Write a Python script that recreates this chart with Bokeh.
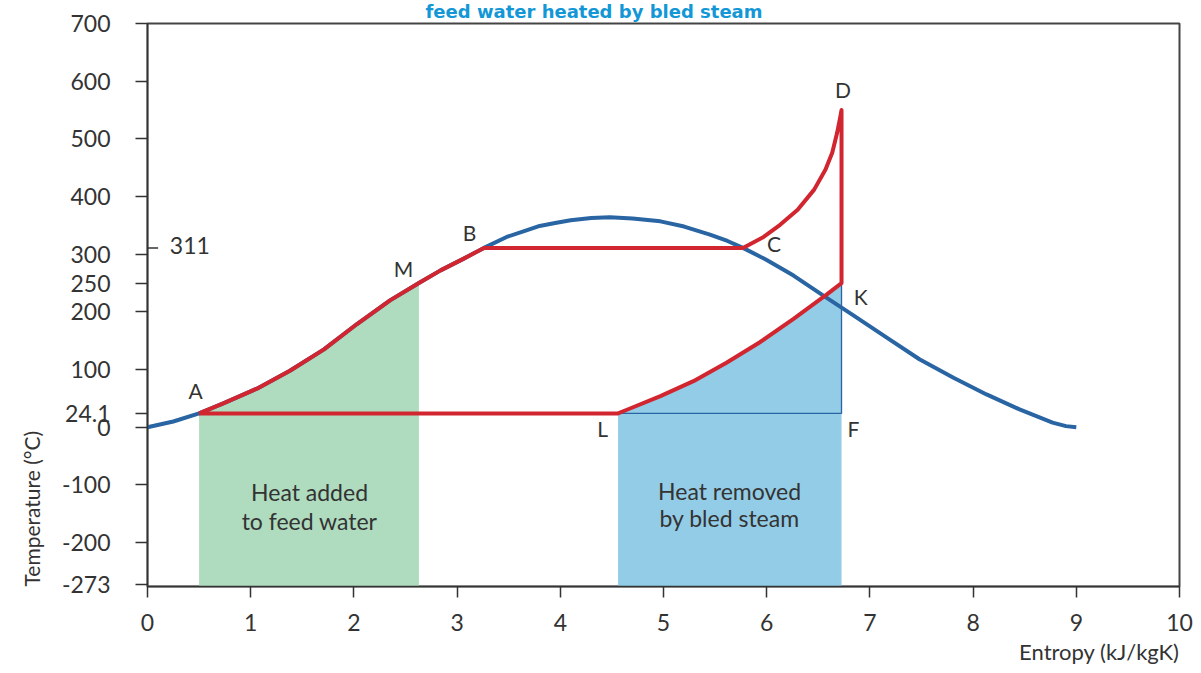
import math
from bokeh.plotting import figure
from bokeh.models import FixedTicker, Label, Range1d, Title
from bokeh.embed import file_html
from bokeh.resources import INLINE

# ---------------- data ----------------
x_ticks = [0, 1, 2, 3, 4, 5, 6, 7, 8, 9, 10]
y_ticks = [-273, -200, -100, 0, 24.1, 100, 200, 250, 300, 400, 500, 600, 700]
y_tick_labels = ["-273", "-200", "-100", "0", "24.1", "100", "200", "250",
                 "300", "400", "500", "600", "700"]
Y_MIN = -276
Y_MAX = 700

# saturation dome (blue)
dome_s = [0, 0.25, 0.5, 0.74, 1.06, 1.38, 1.71, 2.03, 2.35, 2.63, 2.84, 3.06,
          3.26, 3.48, 3.65, 3.8, 3.95, 4.1, 4.3, 4.48, 4.7, 4.97, 5.2, 5.45,
          5.62, 5.77, 6.0, 6.26, 6.56, 6.84, 7.16, 7.48, 7.81, 8.13, 8.45,
          8.77, 8.9, 9.0]
dome_T = [0, 10, 24.1, 42, 67, 98, 135, 179, 220, 250, 272, 292,
          311, 330, 340, 349, 354, 359, 363, 364, 362, 357, 348, 334,
          323, 311, 290, 263, 227, 194, 156, 118, 86, 57, 31,
          8, 2, 0]

# cycle (red): A -> M (feed water heating)
heat_s = [0.5, 0.74, 1.06, 1.38, 1.71, 2.03, 2.35, 2.63]
heat_T = [24.1, 42, 67, 98, 135, 179, 220, 250]
# M -> B
boil_s = [2.84, 3.06, 3.26]
boil_T = [272, 292, 311]
# C -> D (superheating)
superheat_s = [5.77, 5.97, 6.13, 6.30, 6.46, 6.57, 6.635, 6.683, 6.715, 6.725]
superheat_T = [311, 330, 351, 377, 412, 447, 476, 511, 540, 550]
# K -> L (bled steam)
bleed_s = [6.725, 6.58, 6.26, 5.93, 5.61, 5.29, 4.97, 4.64, 4.56]
bleed_T = [250, 230, 188, 147, 112, 80, 54, 30, 24.1]

point_names = ["A", "M", "B", "C", "D", "K", "L", "F"]
point_s = [0.465, 2.48, 3.12, 6.07, 6.74, 6.91, 4.41, 6.84]
point_T = [64, 275, 338, 318, 586, 227, -2, -2]

TITLE = "feed water heated by bled steam"
XLABEL = "Entropy (kJ/kgK)"
YLABEL = "Temperature (°C)"

# ---------------- styles ----------------
FONT = "Lato"
TXT = "#333333"
RED = "#d12630"
BLUE = "#2a65a3"
GREEN_FILL = "#afdbbf"
BLUE_FILL = "#93cce6"

p = figure(frame_width=1032, frame_height=563,
           min_border_left=147, min_border_right=14,
           min_border_top=23, min_border_bottom=86,
           x_range=Range1d(0, 10), y_range=Range1d(Y_MIN, Y_MAX),
           output_backend="svg", toolbar_location=None)

# chart title (small, fits above the frame)
p.title.text = TITLE
p.title.text_font = "DejaVu Sans"
p.title.text_font_size = "18px"
p.title.text_font_style = "bold"
p.title.text_color = "#1497d6"
p.title.align = "left"
p.title.offset = 278
p.title.standoff = 0
p.title.vertical_align = "top"

p.xgrid.visible = False
p.ygrid.visible = False
p.outline_line_color = "#444444"
p.outline_line_width = 2
p.background_fill_color = "white"
p.border_fill_color = "white"

for ax in (p.xaxis[0], p.yaxis[0]):
    ax.axis_line_color = TXT
    ax.axis_line_width = 1.5
    ax.major_tick_line_color = TXT
    ax.major_tick_line_width = 1.5
    ax.major_tick_in = 0
    ax.minor_tick_line_color = None
    ax.major_label_text_font = FONT
    ax.major_label_text_font_size = "23px"
    ax.major_label_text_color = TXT

p.xaxis.ticker = FixedTicker(ticks=x_ticks, minor_ticks=[])
p.xaxis.major_tick_out = 11
p.xaxis.major_label_standoff = 16

p.yaxis.ticker = FixedTicker(ticks=y_ticks, minor_ticks=[])
p.yaxis.major_tick_out = 12
p.yaxis.major_label_standoff = 25
p.yaxis.major_label_overrides = dict(zip(y_ticks, y_tick_labels))

# axis titles as side titles
xt = Title(text=XLABEL, align="right", text_font=FONT, text_font_size="22px",
           text_font_style="normal", text_color=TXT, standoff=4)
p.add_layout(xt, "below")
yt = Title(text=YLABEL, align="left", vertical_align="bottom", text_font=FONT,
           text_font_size="21px", text_font_style="normal", text_color=TXT,
           standoff=30)
p.add_layout(yt, "left")

# fills
p.varea(x=heat_s, y1=Y_MIN, y2=heat_T, fill_color=GREEN_FILL)
p.varea(x=bleed_s[::-1], y1=Y_MIN, y2=bleed_T[::-1], fill_color=BLUE_FILL)

# thin outline of the bled-steam triangle
p.line(x=[bleed_s[-1], bleed_s[0], bleed_s[0]],
       y=[bleed_T[-1], bleed_T[-1], bleed_T[0]],
       line_color=BLUE, line_width=1.3)

# saturation dome
p.line(x=dome_s, y=dome_T, line_color=BLUE, line_width=4, line_join="round")

# cycle
cycle_s = heat_s + boil_s + superheat_s + bleed_s + [heat_s[0]]
cycle_T = heat_T + boil_T + superheat_T + bleed_T + [heat_T[0]]
p.line(x=cycle_s, y=cycle_T, line_color=RED, line_width=4, line_join="round")

# 311 marker inside the axis
sat_T = boil_T[-1]
p.segment(x0=[0], y0=[sat_T], x1=[0.103], y1=[sat_T], line_color=TXT, line_width=1.5)
p.add_layout(Label(x=0.216, y=sat_T + 4, text=str(sat_T), text_font=FONT,
                   text_font_size="23px", text_color=TXT,
                   text_align="left", text_baseline="middle"))

# point letters
for name, s, t in zip(point_names, point_s, point_T):
    p.add_layout(Label(x=s, y=t, text=name, text_font=FONT, text_font_size="21px",
                       text_color=TXT, text_align="center", text_baseline="middle"))

# area captions
for txt, s, t in [("Heat added", 1.57, -113), ("to feed water", 1.57, -163),
                  ("Heat removed", 5.64, -110), ("by bled steam", 5.64, -158)]:
    p.add_layout(Label(x=s, y=t, text=txt, text_font=FONT, text_font_size="23px",
                       text_color=TXT, text_align="center", text_baseline="middle"))

open("out.html", "w").write(file_html(p, INLINE))
